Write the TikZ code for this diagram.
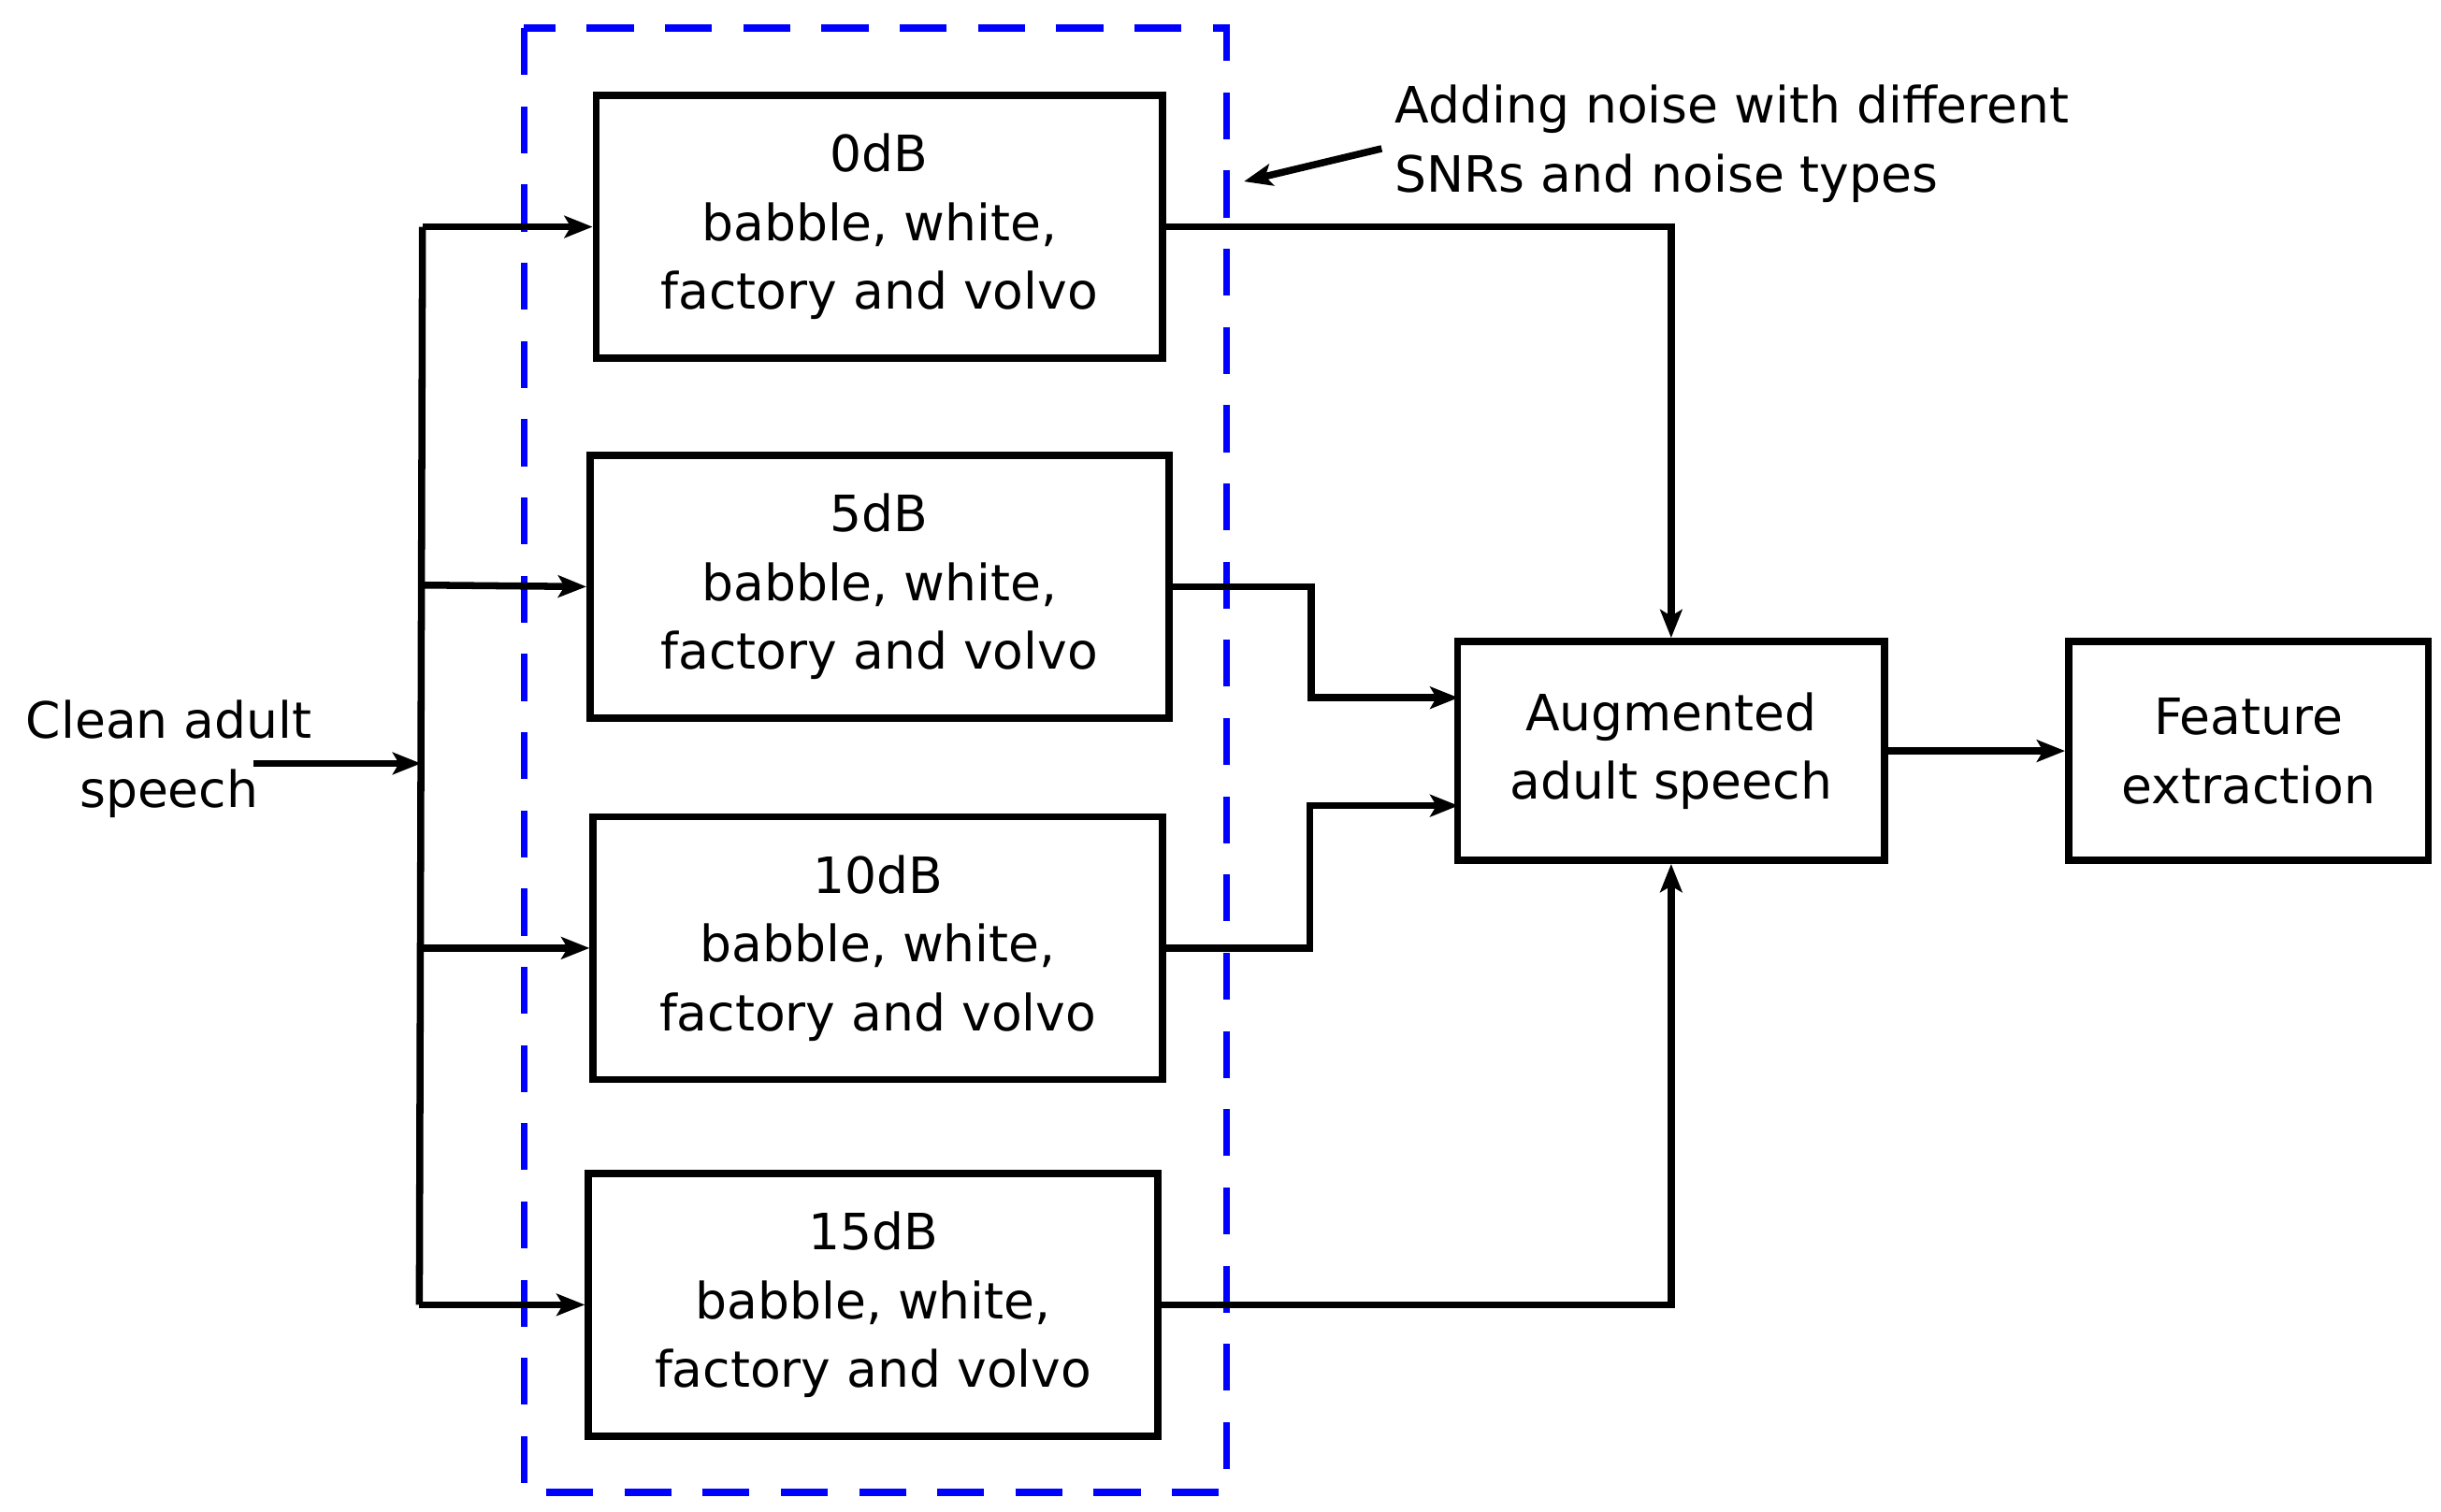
\documentclass[tikz,border=0pt]{standalone}
\usepackage{fontspec}
\setmainfont{DejaVu Sans}
\usetikzlibrary{arrows.meta}
\begin{document}
\begin{tikzpicture}[x=1pt,y=-1pt,
  box/.style={draw,line width=4.5pt,minimum height=168pt,align=center,inner sep=0pt,font=\fontsize{32}{44}\selectfont},
  lab/.style={align=center,font=\fontsize{32}{44}\selectfont},
  arr/.style={line width=4.5pt,-{Stealth[length=18pt,width=14pt,inset=4pt]}},
  ln/.style={line width=4.5pt}]
\useasboundingbox (0,0) rectangle (1560,966);
\draw[blue,line width=4.5pt,dash pattern=on 30pt off 20pt] (335,18) rectangle (784,954);
\node[box,minimum width=362pt] (b0) at (562,145) {0dB\\babble, white,\\factory and volvo};
\node[box,minimum width=370pt] (b5) at (562,375) {5dB\\babble, white,\\factory and volvo};
\node[box,minimum width=364pt] (b10) at (561,606) {10dB\\babble, white,\\factory and volvo};
\node[box,minimum width=364pt] (b15) at (558,834) {15dB\\babble, white,\\factory and volvo};
\node[box,minimum width=273pt,minimum height=140pt] (aug) at (1068,480) {Augmented\\adult speech};
\node[box,minimum width=230pt,minimum height=140pt] (feat) at (1437,480) {Feature\\extraction};
\node[lab] (clean) at (108,485) {Clean adult\\speech};
\node[lab,align=left,anchor=west] (note) at (888,92) {Adding noise with different\\SNRs and noise types};
\coordinate (t) at (270,145);
\coordinate (bt) at (268,834);
\coordinate (cs) at (162,488);
\coordinate (cj) at (269,488);
\coordinate (na) at (883,95);
\coordinate (nb) at (795,116);
\draw[ln] (t) -- (bt);
\draw[arr] (cs) -- (cj);
\draw[arr] (t) -- (b0.west);
\draw[arr] (270,374) -- (b5.west);
\draw[arr] (269,606) -- (b10.west);
\draw[arr] (bt) -- (b15.west);
\draw[arr] (b0.east) -| (aug.north);
\draw[arr] (b15.east) -| (aug.south);
\draw[arr] (b5.east) -- (838,375) |- (932,446);
\draw[arr] (b10.east) -- (837,606) |- (932,515);
\draw[arr] (aug.east) -- (feat.west);
\draw[arr] (na) -- (nb);
\end{tikzpicture}
\end{document}
